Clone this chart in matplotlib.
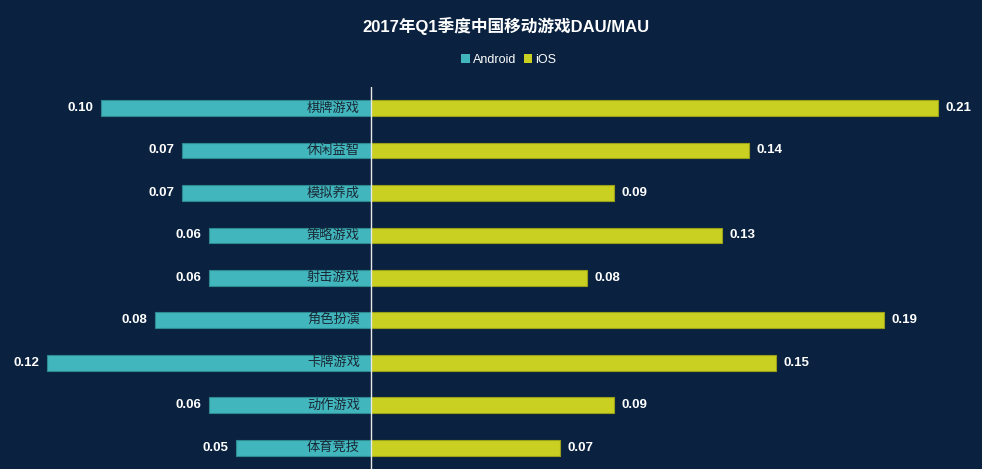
import numpy as np
import matplotlib
matplotlib.use("Agg")
import matplotlib.pyplot as plt
from matplotlib.patches import Patch

plt.rcParams['font.family'] = ['Liberation Sans', 'Noto Sans CJK SC', 'DejaVu Sans']

# -----------------------------
# Data
# -----------------------------
categories = ["棋牌游戏", "休闲益智", "模拟养成", "策略游戏", "射击游戏",
              "角色扮演", "卡牌游戏", "动作游戏", "体育竞技"]
android = [0.10, 0.07, 0.07, 0.06, 0.06, 0.08, 0.12, 0.06, 0.05]
ios = [0.21, 0.14, 0.09, 0.13, 0.08, 0.19, 0.15, 0.09, 0.07]

BG = "#0a2240"
TEAL = "#42b6bd"
YELLOW = "#c9d022"

fig = plt.figure(figsize=(9.82, 4.69), dpi=100)
fig.patch.set_facecolor(BG)
ax = fig.add_axes([0, 0.0, 1, 0.815])
ax.set_facecolor(BG)

y = np.arange(len(categories))
bar_h = 0.37
ax.barh(y, [-v for v in android], height=bar_h, color=TEAL, edgecolor="#2d8a90", linewidth=0.8)
ax.barh(y, ios, height=bar_h, color=YELLOW, edgecolor="#9aa018", linewidth=0.8)

ax.set_xlim(-371 / 2700, (982 - 371) / 2700)
ax.set_ylim(len(categories) - 0.5, -0.5)
ax.axvline(0, color="#e8e8e8", linewidth=1.0, zorder=5)

for i, (a, b, c) in enumerate(zip(android, ios, categories)):
    ax.annotate(f"{a:.2f}", (-a, i), xytext=(-5.5, 0), textcoords="offset points",
                ha="right", va="center", color="white", fontsize=9.5, fontweight="bold")
    ax.annotate(f"{b:.2f}", (b, i), xytext=(5.5, 0), textcoords="offset points",
                ha="left", va="center", color="white", fontsize=9.5, fontweight="bold")
    ax.annotate(c, (0, i), xytext=(-8, 0), textcoords="offset points",
                ha="right", va="center", color="#1a2836", fontsize=9.5,
                family=['Noto Sans CJK SC', 'DejaVu Sans'])

for s in ax.spines.values():
    s.set_visible(False)
ax.set_xticks([])
ax.set_yticks([])

fig.text(0.515, 0.945, "2017年Q1季度中国移动游戏DAU/MAU", ha="center", va="center",
         color="white", fontsize=12, fontweight="bold")

handles = [Patch(facecolor=TEAL, label="Android"), Patch(facecolor=YELLOW, label="iOS")]
leg = fig.legend(handles=handles, loc="center", bbox_to_anchor=(0.518, 0.873), ncol=2,
                 frameon=False, fontsize=9, handlelength=0.7, handleheight=0.7,
                 handletextpad=0.2, columnspacing=0.6)
for t in leg.get_texts():
    t.set_color("white")

fig.savefig("out.png", dpi=100, facecolor=BG)
